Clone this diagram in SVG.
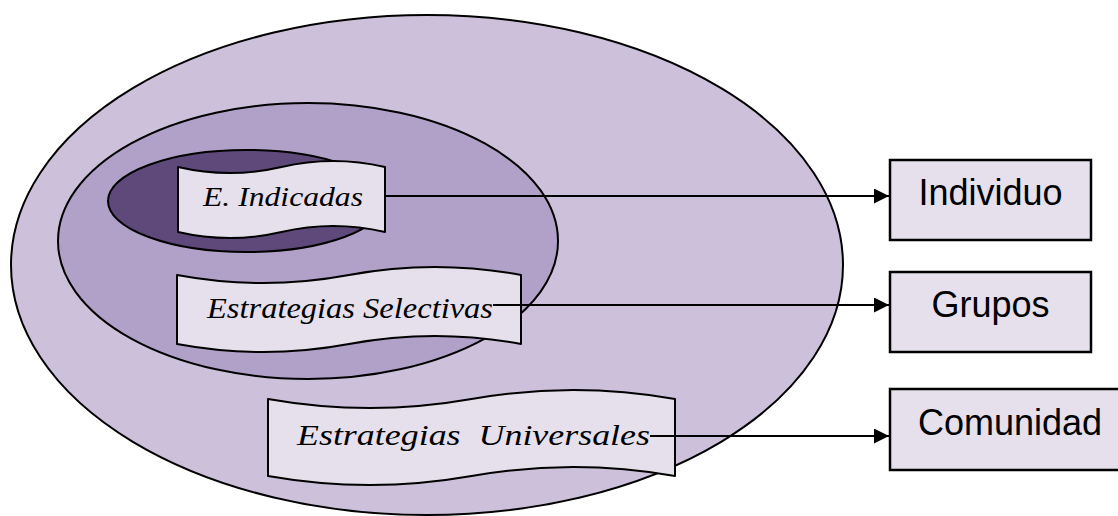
<svg xmlns="http://www.w3.org/2000/svg" width="1118" height="516" viewBox="0 0 1118 516">
  <defs>
    <style>
      .ell { stroke: #000; stroke-width: 2; }
      .tape { fill: #E5E0EC; stroke: #000; stroke-width: 2; stroke-linejoin: round; }
      .script { font-family: "Liberation Serif", "DejaVu Serif", serif; font-style: italic; fill: #000; }
      .box { fill: #E5E0EC; stroke: #000; stroke-width: 2.5; }
      .lbl { font-family: "Liberation Sans", Arial, sans-serif; font-size: 36px; fill: #000; text-anchor: middle; }
      .conn { stroke: #000; stroke-width: 2; fill: none; marker-end: url(#arrow); }
    </style>
    <marker id="arrow" viewBox="0 0 15 15" refX="15" refY="7.5" markerWidth="15" markerHeight="15" markerUnits="userSpaceOnUse" orient="auto">
      <path d="M0,0 L15,7.5 L0,15 Z" fill="#000"/>
    </marker>
  </defs>

  <g id="outer-ellipse">
    <ellipse class="ell" cx="427" cy="265" rx="416" ry="250" fill="#CCC0DA"/>
  </g>
  <g id="middle-ellipse">
    <ellipse class="ell" cx="308" cy="241" rx="250" ry="138" fill="#B1A0C7"/>
  </g>
  <g id="inner-ellipse">
    <ellipse class="ell" cx="246.5" cy="201" rx="138.5" ry="51" fill="#5F497A"/>
  </g>

  <g id="node-indicadas">
    <path class="tape" d="M178,167 Q229.75,179 281.5,167 T385,167 L385,232 Q333.25,220 281.5,232 T178,232 Z"/>
    <text class="script" x="203" y="206" font-size="27" textLength="160" lengthAdjust="spacingAndGlyphs">E. Indicadas</text>
  </g>
  <g id="node-selectivas">
    <path class="tape" d="M177,275 Q263,291 349,275 T521,275 L521,344 Q435,328 349,344 T177,344 Z"/>
    <text class="script" x="207" y="318" font-size="29" textLength="286" lengthAdjust="spacingAndGlyphs">Estrategias Selectivas</text>
  </g>
  <g id="node-universales">
    <path class="tape" d="M268,399 Q369.75,417 471.5,399 T675,399 L675,476 Q573.25,458 471.5,476 T268,476 Z"/>
    <text class="script" x="297" y="445" font-size="30" textLength="353" lengthAdjust="spacingAndGlyphs" xml:space="preserve">Estrategias  Universales</text>
  </g>

  <g id="node-individuo">
    <rect class="box" x="890" y="160" width="201" height="80"/>
    <text class="lbl" x="990.5" y="205">Individuo</text>
  </g>
  <g id="node-grupos">
    <rect class="box" x="890" y="272" width="201" height="80"/>
    <text class="lbl" x="990.5" y="317">Grupos</text>
  </g>
  <g id="node-comunidad">
    <rect class="box" x="890" y="389" width="240" height="81"/>
    <text class="lbl" x="1010" y="435">Comunidad</text>
  </g>

  <g id="connectors">
    <line class="conn" x1="385" y1="196" x2="889" y2="196"/>
    <line class="conn" x1="493" y1="305" x2="889" y2="305"/>
    <line class="conn" x1="650" y1="436" x2="889" y2="436"/>
  </g>
</svg>
